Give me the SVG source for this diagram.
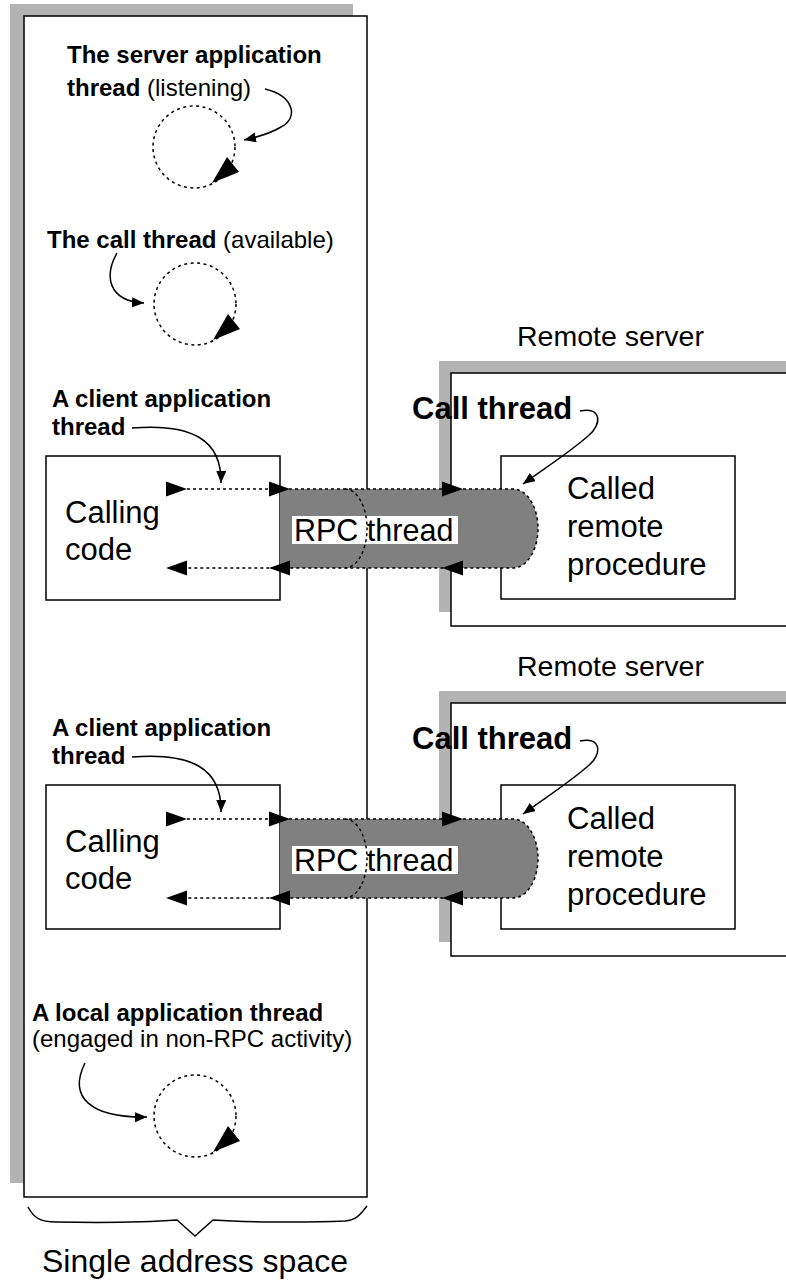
<svg xmlns="http://www.w3.org/2000/svg" xmlns:xlink="http://www.w3.org/1999/xlink" width="786" height="1285" viewBox="0 0 786 1285">
<style>
.shadow{fill:#b3b3b3}
.box{fill:#fff;stroke:#000;stroke-width:1.5}
.dash{fill:none;stroke:#000;stroke-width:1.5;stroke-dasharray:3 3}
.cdash{fill:none;stroke:#000;stroke-width:1.5;stroke-dasharray:3 3.5}
.curve{fill:none;stroke:#000;stroke-width:1.5;marker-end:url(#sm)}
.rpc{fill:#808080}
text{font-family:"Liberation Sans",Arial,Helvetica,sans-serif;fill:#000}
.lbl{font-size:24px}
.b{font-weight:bold}
.big{font-size:31px}
.bigb{font-size:31px;font-weight:bold}
</style>
<defs>
<marker id="sm" markerUnits="userSpaceOnUse" markerWidth="14" markerHeight="12" refX="12" refY="5" orient="auto">
<path d="M0,0 L12,5 L0,10 z" fill="#000"/>
</marker>
<path id="triR" d="M0,-7.5 L21,0 L0,7.5 z" fill="#000"/>
<path id="triL" d="M0,0 L21,-7.5 L21,7.5 z" fill="#000"/>
<g id="loop">
<circle cx="0" cy="0" r="41" class="cdash"/>
<polygon points="18,36 33,10 45,25" fill="#000"/>
</g>
<g id="rpcpair">
<path class="rpc" d="M280,489 H513 A25,39.5 0 0 1 513,568 H280 Z"/>
<rect x="292" y="516" width="166" height="28" fill="#fff"/>
<text x="294" y="541" style="font-size:30.5px">RPC thread</text>
</g>
</defs>

<g id="address-space">
<rect class="shadow" x="10" y="4" width="343" height="1179"/>
<rect class="box" x="24" y="16" width="343" height="1181"/>
</g>

<g id="server-thread">
<text x="67" y="63" class="lbl b">The server application</text>
<text x="67" y="96" class="lbl"><tspan class="b">thread</tspan> (listening)</text>
<use xlink:href="#loop" x="194" y="147"/>
</g>

<g id="call-thread-available">
<text x="47" y="248" class="lbl"><tspan class="b">The call thread</tspan> (available)</text>
<use xlink:href="#loop" x="195" y="304"/>
</g>

<g id="remote-server-1">
<text x="517" y="346" style="font-size:28.5px">Remote server</text>
<rect class="shadow" x="439" y="361" width="360" height="251"/>
<rect class="box" x="451" y="373" width="360" height="253"/>
<rect class="box" x="501" y="456" width="234" height="143"/>
<text x="567" y="499" class="big">Called</text>
<text x="567" y="537" class="big">remote</text>
<text x="567" y="575" class="big">procedure</text>
<text x="412" y="419" class="bigb">Call thread</text>
</g>

<g id="client-1">
<text x="52" y="407" class="lbl b">A client application</text>
<text x="52" y="435" class="lbl b">thread</text>
<rect class="box" x="46" y="456" width="234" height="144"/>
<text x="65" y="523" class="big">Calling</text>
<text x="65" y="560" class="big">code</text>
</g>

<g id="rpc-thread-1">
<use xlink:href="#rpcpair"/>
</g>

<g id="remote-server-2" transform="translate(0,330)">
<text x="517" y="346" style="font-size:28.5px">Remote server</text>
<rect class="shadow" x="439" y="361" width="360" height="251"/>
<rect class="box" x="451" y="373" width="360" height="253"/>
<rect class="box" x="501" y="455" width="234" height="144"/>
<text x="567" y="499" class="big">Called</text>
<text x="567" y="537" class="big">remote</text>
<text x="567" y="575" class="big">procedure</text>
<text x="412" y="419" class="bigb">Call thread</text>
</g>

<g id="client-2" transform="translate(0,329)">
<text x="52" y="407" class="lbl b">A client application</text>
<text x="52" y="435" class="lbl b">thread</text>
<rect class="box" x="46" y="456" width="234" height="144"/>
<text x="65" y="523" class="big">Calling</text>
<text x="65" y="560" class="big">code</text>
</g>

<g id="rpc-thread-2" transform="translate(0,330)">
<use xlink:href="#rpcpair"/>
</g>

<g id="local-thread">
<text x="32" y="1021" class="lbl b">A local application thread</text>
<text x="32" y="1047" class="lbl">(engaged in non-RPC activity)</text>
<use xlink:href="#loop" x="195" y="1116"/>
</g>

<g id="brace-label">
<path d="M28,1207 C34,1218 40,1222 56,1222 C110,1223 150,1222 177,1220 L195,1236 L213,1220 C240,1222 300,1223 345,1221 C358,1220 362,1212 367,1206" fill="none" stroke="#000" stroke-width="1.5"/>
<text x="195" y="1272" text-anchor="middle" style="font-size:32px">Single address space</text>
</g>

<g id="connectors">
<path class="curve" d="M265,89 C294,96 299,118 281,127 C271,133 258,137 244,140"/>
<path class="curve" d="M117,253 C104,276 108,301 144,303"/>
<path class="curve" d="M85,1063 C68,1097 90,1118 147,1117"/>
<g id="flow-1">
<path class="curve" d="M132,428 C192,423 222,440 221,483"/>
<path class="curve" d="M580,411 C601,406 603,424 588,436 C570,452 545,468 523,484"/>
<path class="dash" d="M187,489 H513 A25,39.5 0 0 1 513,568 H187"/>
<path class="dash" d="M345,489 A22,39.5 0 0 1 345,568"/>
<use xlink:href="#triR" x="166" y="489"/>
<use xlink:href="#triR" x="269" y="489"/>
<use xlink:href="#triR" x="442" y="489"/>
<use xlink:href="#triL" x="442" y="568"/>
<use xlink:href="#triL" x="269" y="568"/>
<use xlink:href="#triL" x="166" y="568"/>
</g>
<g id="flow-2" transform="translate(0,329)">
<path class="curve" d="M132,428 C192,423 222,440 221,483"/>
<path class="curve" transform="translate(0,1)" d="M580,411 C601,406 603,424 588,436 C570,452 545,468 523,484"/>
<path class="dash" transform="translate(0,1)" d="M187,489 H513 A25,39.5 0 0 1 513,568 H187"/>
<path class="dash" transform="translate(0,1)" d="M345,489 A22,39.5 0 0 1 345,568"/>
<use xlink:href="#triR" x="166" y="490"/>
<use xlink:href="#triR" x="269" y="490"/>
<use xlink:href="#triR" x="442" y="490"/>
<use xlink:href="#triL" x="442" y="569"/>
<use xlink:href="#triL" x="269" y="569"/>
<use xlink:href="#triL" x="166" y="569"/>
</g>
</g>
</svg>
